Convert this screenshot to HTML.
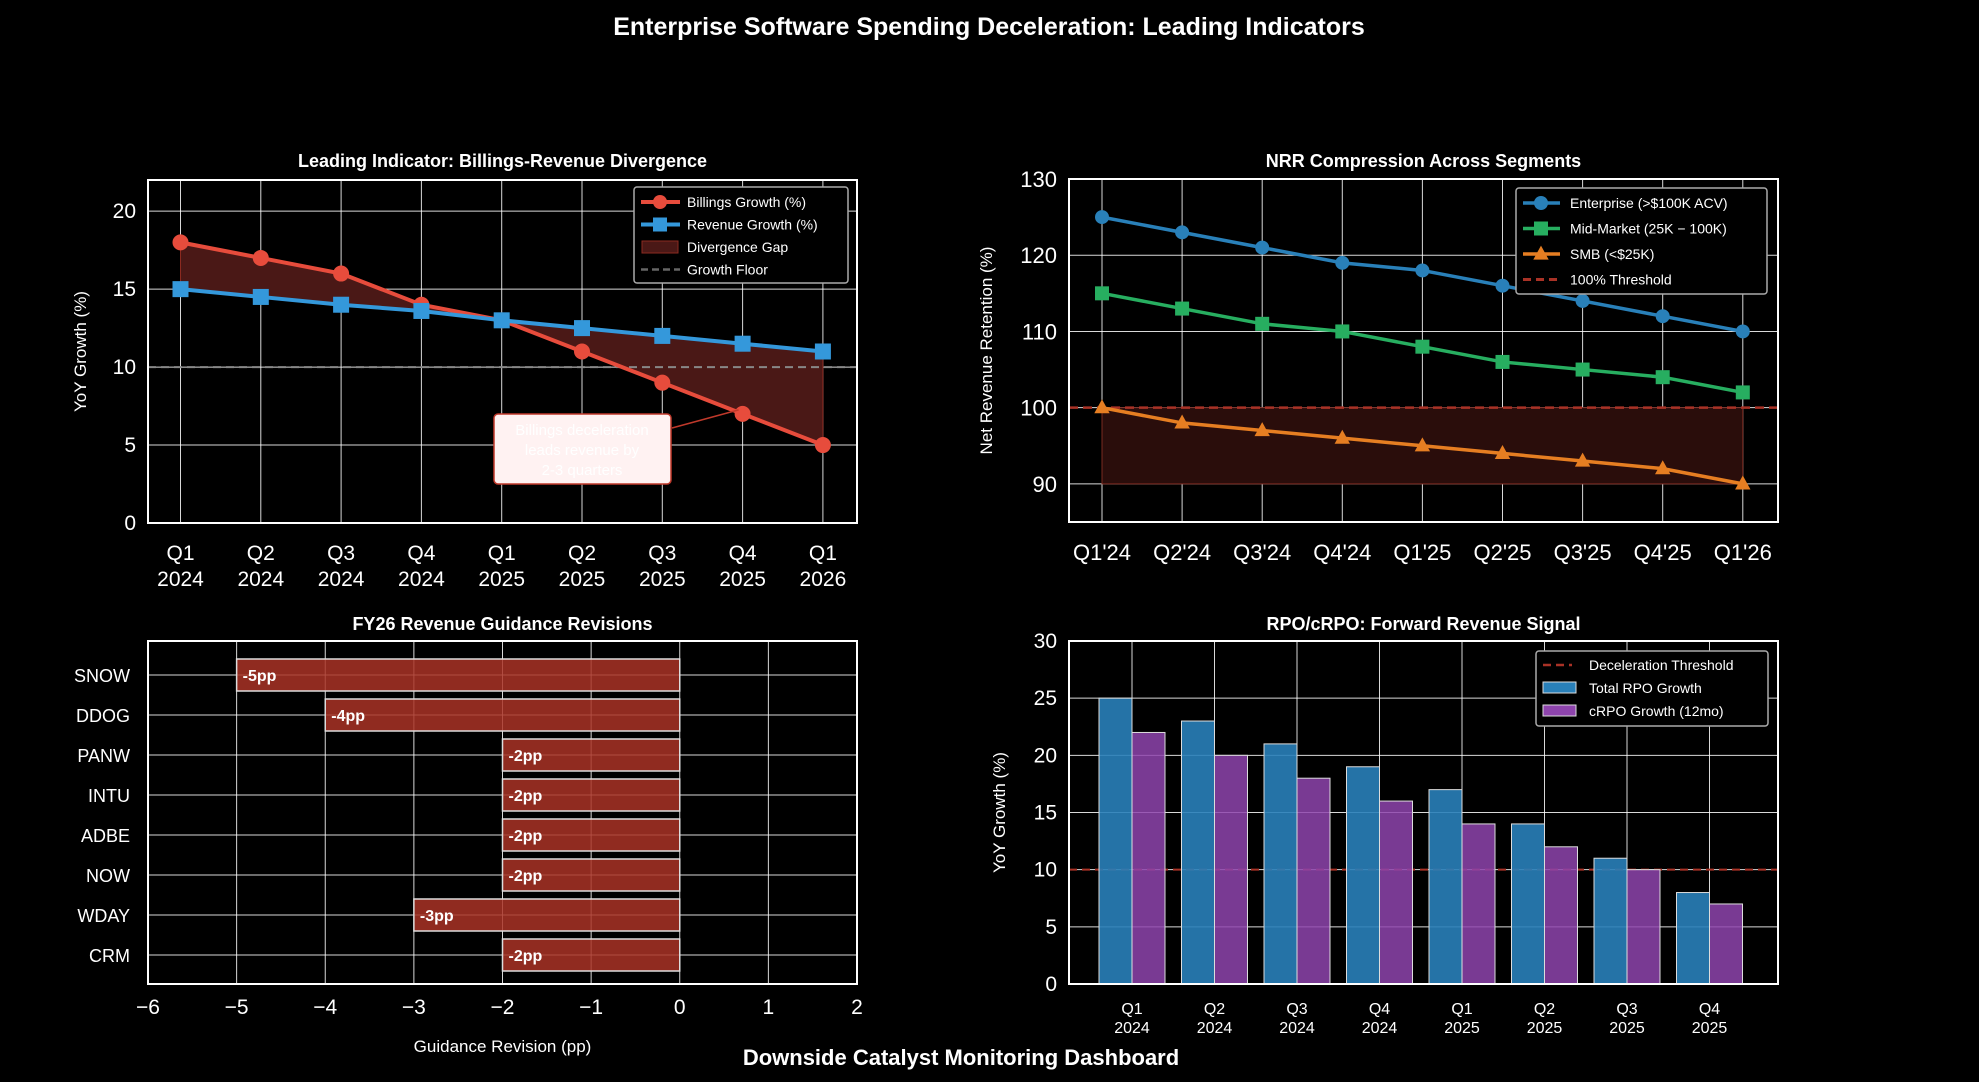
<!DOCTYPE html>
<html><head><meta charset="utf-8"><style>
html,body{margin:0;padding:0;background:#000;}
svg{display:block;font-family:"Liberation Sans",Arial,sans-serif;}
</style></head><body>
<svg id="fig" width="1979" height="1082" viewBox="0 0 1979 1082" xmlns="http://www.w3.org/2000/svg">
<rect width="1979" height="1082" fill="#000"/>
<text x="989" y="35" text-anchor="middle" fill="#fff" font-size="25" font-weight="bold">Enterprise Software Spending Deceleration: Leading Indicators</text>
<text x="961" y="1065" text-anchor="middle" fill="#fff" font-size="22" font-weight="bold">Downside Catalyst Monitoring Dashboard</text>
<g id="p1"></g>
<g id="p2"></g>
<g id="p3"></g>
<g id="p4"></g>
</svg>
<script>
// ---- data ----
const p1Cats = [["Q1","2024"],["Q2","2024"],["Q3","2024"],["Q4","2024"],["Q1","2025"],["Q2","2025"],["Q3","2025"],["Q4","2025"],["Q1","2026"]];
const billings = [18,17,16,14,13,11,9,7,5];
const revenue = [15,14.5,14,13.6,13,12.5,12,11.5,11];
const growthFloor = 10;
const p1Ticks = [0,5,10,15,20];

const p2Cats = ["Q1'24","Q2'24","Q3'24","Q4'24","Q1'25","Q2'25","Q3'25","Q4'25","Q1'26"];
const nrrEnt = [125,123,121,119,118,116,114,112,110];
const nrrMid = [115,113,111,110,108,106,105,104,102];
const nrrSmb = [100,98,97,96,95,94,93,92,90];
const nrrThreshold = 100;
const p2Ticks = [90,100,110,120,130];

const p3Cats = ["SNOW","DDOG","PANW","INTU","ADBE","NOW","WDAY","CRM"];
const p3Vals = [-5,-4,-2,-2,-2,-2,-3,-2];
const p3Labels = ["-5pp","-4pp","-2pp","-2pp","-2pp","-2pp","-3pp","-2pp"];
const p3Ticks = [-6,-5,-4,-3,-2,-1,0,1,2];
const p3TickLabels = ["\u22126","\u22125","\u22124","\u22123","\u22122","\u22121","0","1","2"];

const p4Cats = [["Q1","2024"],["Q2","2024"],["Q3","2024"],["Q4","2024"],["Q1","2025"],["Q2","2025"],["Q3","2025"],["Q4","2025"]];
const rpoTotal = [25,23,21,19,17,14,11,8];
const rpoCurrent = [22,20,18,16,14,12,10,7];
const decelThreshold = 10;
const p4Ticks = [0,5,10,15,20,25,30];

// ---- helpers ----
const NS="http://www.w3.org/2000/svg";
function mk(parent,tag,attrs,text){const e=document.createElementNS(NS,tag);for(const k in attrs)e.setAttribute(k,attrs[k]);if(text!==undefined)e.textContent=text;parent.appendChild(e);return e;}
function marker(g,type,x,y,c,s){
  if(type==="o") return mk(g,"circle",{cx:x,cy:y,r:s,fill:c});
  if(type==="s") return mk(g,"rect",{x:x-s,y:y-s,width:2*s,height:2*s,fill:c});
  return mk(g,"polygon",{points:`${x},${y-s*1.2} ${x-s*1.1},${y+s*0.8} ${x+s*1.1},${y+s*0.8}`,fill:c});
}

// ===== Panel 1 =====
(function(){
const g=document.getElementById("p1");
const L=148,R=857,T=180,B=523;
const x=i=>180.5+i*80.3, y=v=>B-(v/22)*(B-T);
let t=mk(g,"text",{x:(L+R)/2,y:167,"text-anchor":"middle",fill:"#fff","font-size":18,"font-weight":"bold"},"Leading Indicator: Billings-Revenue Divergence");

p1Ticks.forEach(v=>{
  let l=mk(g,"line",{x1:L,x2:R,y1:y(v),y2:y(v),stroke:"#fff","stroke-width":1,opacity:0.85});
  
  let tt=mk(g,"text",{x:L-12,y:y(v)+7,"text-anchor":"end",fill:"#fff","font-size":21},String(v));
  
});
p1Cats.forEach((c,i)=>{
  let l=mk(g,"line",{x1:x(i),x2:x(i),y1:T,y2:B,stroke:"#fff","stroke-width":1,opacity:0.85});
  
  let tt=mk(g,"text",{x:x(i),y:B+37,"text-anchor":"middle",fill:"#fff","font-size":21});
  
  mk(tt,"tspan",{x:x(i)},c[0]);mk(tt,"tspan",{x:x(i),dy:26},c[1]);
});
let pts=billings.map((v,i)=>`${x(i)},${y(v)}`).concat(revenue.map((v,i)=>`${x(i)},${y(v)}`).reverse());
let f=mk(g,"polygon",{points:pts.join(" "),fill:"#4a1816",stroke:"#8b2a20","stroke-width":1});

let fl=mk(g,"line",{x1:L,x2:R,y1:y(growthFloor),y2:y(growthFloor),stroke:"#888","stroke-width":2,"stroke-dasharray":"8,5"});

[[billings,"#e74c3c","o","billings-line"],[revenue,"#3498db","s","revenue-line"]].forEach(([d,c,m,n])=>{
  let pl=mk(g,"polyline",{points:d.map((v,i)=>`${x(i)},${y(v)}`).join(" "),fill:"none",stroke:c,"stroke-width":4});
  
  d.forEach((v,i)=>{let mm=marker(g,m,x(i),y(v),c,8);});
});
let ar=mk(g,"line",{x1:672,y1:428,x2:x(7)-4,y2:y(billings[7])-4,stroke:"#c0392b","stroke-width":1.5});

let bx=mk(g,"rect",{x:494,y:414,width:177,height:70,rx:4,fill:"#fff2f2",stroke:"#c0392b","stroke-width":1.5});

let at=mk(g,"text",{x:582,y:435,"text-anchor":"middle",fill:"#fff","font-size":15});

mk(at,"tspan",{x:582},"Billings deceleration");mk(at,"tspan",{x:582,dy:20},"leads revenue by");mk(at,"tspan",{x:582,dy:20},"2-3 quarters");
let fr=mk(g,"rect",{x:L,y:T,width:R-L,height:B-T,fill:"none",stroke:"#fff","stroke-width":2});

let yl=mk(g,"text",{x:0,y:0,transform:`translate(86,${(T+B)/2}) rotate(-90)`,"text-anchor":"middle",fill:"#fff","font-size":17},"YoY Growth (%)");

let lg=mk(g,"g",{});
mk(lg,"rect",{x:634,y:187,width:214,height:96,rx:3,fill:"#000",stroke:"#aaa","stroke-width":1.5});
const ents=[["Billings Growth (%)","line","#e74c3c","o"],["Revenue Growth (%)","line","#3498db","s"],["Divergence Gap","patch","#4a1816"],["Growth Floor","dash","#666"]];
ents.forEach((e,i)=>{const yy=202+i*22.5;
  if(e[1]==="line"){mk(lg,"line",{x1:641,x2:680,y1:yy,y2:yy,stroke:e[2],"stroke-width":4});marker(lg,e[3],660,yy,e[2],7);}
  else if(e[1]==="patch"){mk(lg,"rect",{x:642,y:yy-6,width:36,height:12,fill:e[2],stroke:"#8b2a20"});}
  else mk(lg,"line",{x1:641,x2:680,y1:yy,y2:yy,stroke:e[2],"stroke-width":2.5,"stroke-dasharray":"7,4"});
  let tx=mk(lg,"text",{x:687,y:yy+5,fill:"#fff","font-size":14},e[0]);
});
})();

// ===== Panel 2 =====
(function(){
const g=document.getElementById("p2");
const L=1069,R=1778,T=179,B=522;
const x=i=>1102+i*80.1, y=v=>B-(v-85)/45*(B-T);
let t=mk(g,"text",{x:(L+R)/2,y:167,"text-anchor":"middle",fill:"#fff","font-size":18,"font-weight":"bold"},"NRR Compression Across Segments");

p2Ticks.forEach(v=>{
  let l=mk(g,"line",{x1:L,x2:R,y1:y(v),y2:y(v),stroke:"#fff","stroke-width":1,opacity:0.85});
  
  let tt=mk(g,"text",{x:L-12,y:y(v)+8,"text-anchor":"end",fill:"#fff","font-size":22},String(v));
  
});
p2Cats.forEach((c,i)=>{
  let l=mk(g,"line",{x1:x(i),x2:x(i),y1:T,y2:B,stroke:"#fff","stroke-width":1,opacity:0.85});
  
  let tt=mk(g,"text",{x:x(i),y:B+38,"text-anchor":"middle",fill:"#fff","font-size":22},c);
  
});
let f=mk(g,"polygon",{points:nrrSmb.map((v,i)=>`${x(i)},${y(nrrThreshold)}`).concat(nrrSmb.map((v,i)=>`${x(i)},${y(Math.min(...nrrSmb))}`).reverse()).join(" "),fill:"#2a0d0b",stroke:"#7a2a20","stroke-width":1});

let th=mk(g,"line",{x1:L,x2:R,y1:y(nrrThreshold),y2:y(nrrThreshold),stroke:"#a93226","stroke-width":2.5,"stroke-dasharray":"9,5"});

[[nrrEnt,"#2980b9","o","enterprise-line"],[nrrMid,"#27ae60","s","mid-market-line"],[nrrSmb,"#e67e22","^","smb-line"]].forEach(([d,c,m,n])=>{
  let pl=mk(g,"polyline",{points:d.map((v,i)=>`${x(i)},${y(v)}`).join(" "),fill:"none",stroke:c,"stroke-width":3.5});
  
  d.forEach((v,i)=>{let mm=marker(g,m,x(i),y(v),c,7);});
});
let fr=mk(g,"rect",{x:L,y:T,width:R-L,height:B-T,fill:"none",stroke:"#fff","stroke-width":2});

let yl=mk(g,"text",{x:0,y:0,transform:`translate(992,${(T+B)/2}) rotate(-90)`,"text-anchor":"middle",fill:"#fff","font-size":17},"Net Revenue Retention (%)");

let lg=mk(g,"g",{});
mk(lg,"rect",{x:1516,y:188,width:251,height:106,rx:3,fill:"#000",stroke:"#aaa","stroke-width":1.5});
const ents=[["Enterprise (>$100K ACV)","#2980b9","o"],["Mid-Market (25K \u2212 100K)","#27ae60","s"],["SMB (<$25K)","#e67e22","^"],["100% Threshold","#a93226","d"]];
ents.forEach((e,i)=>{const yy=203+i*25.5;
  if(e[2]==="d") mk(lg,"line",{x1:1523,x2:1560,y1:yy,y2:yy,stroke:e[1],"stroke-width":3,"stroke-dasharray":"8,5"});
  else {mk(lg,"line",{x1:1523,x2:1560,y1:yy,y2:yy,stroke:e[1],"stroke-width":3.5});marker(lg,e[2],1541,yy,e[1],7);}
  let tx=mk(lg,"text",{x:1570,y:yy+5,fill:"#fff","font-size":14},e[0]);
});
})();

// ===== Panel 3 =====
(function(){
const g=document.getElementById("p3");
const L=148,R=857,T=641,B=984;
const x=v=>L+(v+6)/8*(R-L), y=i=>675+i*40;
let t=mk(g,"text",{x:(L+R)/2,y:630,"text-anchor":"middle",fill:"#fff","font-size":18,"font-weight":"bold"},"FY26 Revenue Guidance Revisions");

p3Ticks.forEach((v,k)=>{
  let l=mk(g,"line",{x1:x(v),x2:x(v),y1:T,y2:B,stroke:"#fff","stroke-width":1,opacity:0.85});
  
  let tt=mk(g,"text",{x:x(v),y:B+30,"text-anchor":"middle",fill:"#fff","font-size":21},p3TickLabels[k]);
  
});
p3Cats.forEach((c,i)=>{
  let l=mk(g,"line",{x1:L,x2:R,y1:y(i),y2:y(i),stroke:"#fff","stroke-width":1,opacity:0.85});
  
  let tt=mk(g,"text",{x:L-18,y:y(i)+7,"text-anchor":"end",fill:"#fff","font-size":18},c);
  
});
p3Vals.forEach((v,i)=>{
  let r=mk(g,"rect",{x:x(v),y:y(i)-16,width:x(0)-x(v),height:32,fill:"#a93226","fill-opacity":0.85,stroke:"#ddd","stroke-width":1.5});
  
  let tx=mk(g,"text",{x:x(v)+6,y:y(i)+6,fill:"#fff","font-size":16,"font-weight":"bold"},p3Labels[i]);
  
});
let fr=mk(g,"rect",{x:L,y:T,width:R-L,height:B-T,fill:"none",stroke:"#fff","stroke-width":2});

let xl=mk(g,"text",{x:(L+R)/2,y:1052,"text-anchor":"middle",fill:"#fff","font-size":17},"Guidance Revision (pp)");

})();

// ===== Panel 4 =====
(function(){
const g=document.getElementById("p4");
const L=1069,R=1778,T=641,B=984;
const x=i=>1132+i*82.5, y=v=>B-v/30*(B-T), bw=33;
let t=mk(g,"text",{x:(L+R)/2,y:630,"text-anchor":"middle",fill:"#fff","font-size":18,"font-weight":"bold"},"RPO/cRPO: Forward Revenue Signal");

p4Ticks.forEach(v=>{
  let l=mk(g,"line",{x1:L,x2:R,y1:y(v),y2:y(v),stroke:"#fff","stroke-width":1,opacity:0.85});
  
  let tt=mk(g,"text",{x:L-12,y:y(v)+7,"text-anchor":"end",fill:"#fff","font-size":21},String(v));
  
});
p4Cats.forEach((c,i)=>{
  let l=mk(g,"line",{x1:x(i),x2:x(i),y1:T,y2:B,stroke:"#fff","stroke-width":1,opacity:0.85});
  
  let tt=mk(g,"text",{x:x(i),y:B+30,"text-anchor":"middle",fill:"#fff","font-size":16});
  
  mk(tt,"tspan",{x:x(i)},c[0]);mk(tt,"tspan",{x:x(i),dy:19},c[1]);
});
let th=mk(g,"line",{x1:L,x2:R,y1:y(decelThreshold),y2:y(decelThreshold),stroke:"#a93226","stroke-width":2,"stroke-dasharray":"8,5"});

rpoTotal.forEach((v,i)=>{
  let r=mk(g,"rect",{x:x(i)-bw,y:y(v),width:bw,height:y(0)-y(v),fill:"#2980b9","fill-opacity":0.9,stroke:"#ddd","stroke-width":1});
  
});
rpoCurrent.forEach((v,i)=>{
  let r=mk(g,"rect",{x:x(i),y:y(v),width:bw,height:y(0)-y(v),fill:"#8e44ad","fill-opacity":0.85,stroke:"#ddd","stroke-width":1});
  
});
let fr=mk(g,"rect",{x:L,y:T,width:R-L,height:B-T,fill:"none",stroke:"#fff","stroke-width":2});

let yl=mk(g,"text",{x:0,y:0,transform:`translate(1005,${(T+B)/2}) rotate(-90)`,"text-anchor":"middle",fill:"#fff","font-size":17},"YoY Growth (%)");

let lg=mk(g,"g",{});
mk(lg,"rect",{x:1536,y:651,width:232,height:75,rx:3,fill:"#000",stroke:"#aaa","stroke-width":1.5});
mk(lg,"line",{x1:1543,x2:1572,y1:665,y2:665,stroke:"#a93226","stroke-width":2.5,"stroke-dasharray":"8,5"});
mk(lg,"rect",{x:1543,y:682,width:33,height:11,fill:"#2980b9",stroke:"#ddd"});
mk(lg,"rect",{x:1543,y:705,width:33,height:11,fill:"#8e44ad",stroke:"#ddd"});
["Deceleration Threshold","Total RPO Growth","cRPO Growth (12mo)"].forEach((s,i)=>{
  let tx=mk(lg,"text",{x:1589,y:670+i*23,fill:"#fff","font-size":14},s);
});
})();
</script>
</body></html>
